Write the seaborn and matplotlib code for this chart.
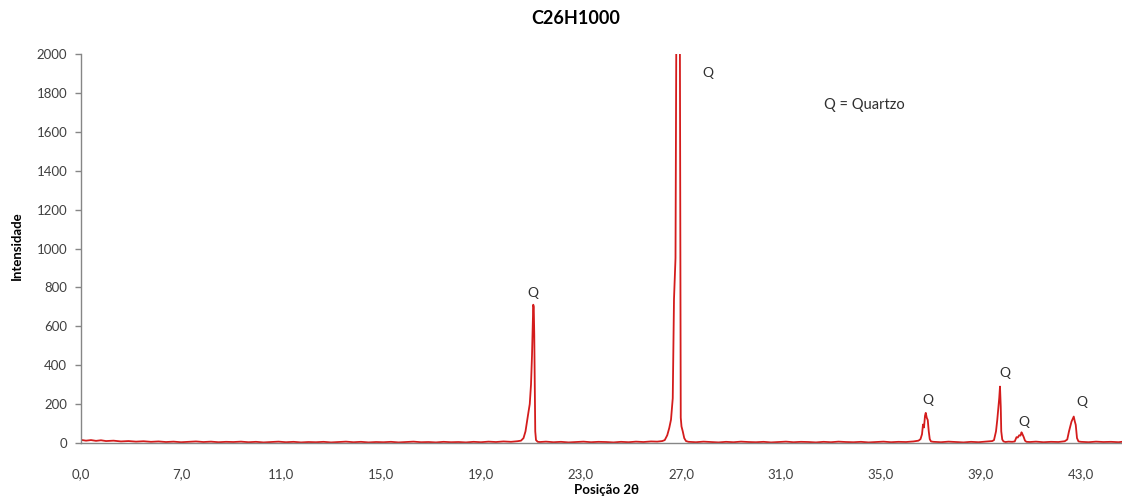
import numpy as np
import pandas as pd
import matplotlib
matplotlib.use("Agg")
import matplotlib.pyplot as plt
import seaborn as sns

# ---- data (2theta in axis-label units, intensity) ----
bg1_x = [3.0, 3.2, 3.4, 3.6, 3.8, 4.0, 4.3, 4.6, 4.9, 5.2, 5.5, 5.8, 6.1, 6.4, 6.7,
         7.0, 7.3, 7.6, 7.9, 8.2, 8.5, 8.8, 9.1, 9.4, 9.7, 10.0, 10.3, 10.6, 10.9,
         11.2, 11.5, 11.8, 12.1, 12.4, 12.7, 13.0, 13.3, 13.6, 13.9, 14.2, 14.5,
         14.8, 15.1, 15.4, 15.7, 16.0, 16.3, 16.6, 16.9, 17.2, 17.5, 17.8, 18.1,
         18.4, 18.7, 19.0, 19.3, 19.6, 19.9, 20.2, 20.45]
bg1_y = [16, 12, 15, 11, 14, 10, 12, 8, 10, 7, 9, 6, 8, 5, 7,
         4, 6, 8, 5, 7, 4, 6, 5, 7, 4, 6, 3, 5, 7,
         4, 6, 3, 5, 4, 6, 3, 5, 7, 4, 6, 3,
         5, 4, 6, 3, 5, 7, 4, 5, 3, 6, 4, 5,
         3, 6, 4, 7, 5, 8, 6, 9]

pk1_x = [20.6, 20.7, 20.78, 20.85, 20.9, 20.95, 21.0, 21.04, 21.07, 21.09, 21.11, 21.13, 21.15, 21.17, 21.2, 21.27]
pk1_y = [12, 25, 60, 120, 160, 200, 300, 450, 620, 711, 700, 560, 300, 60, 15, 6]

bg2_x = [21.35, 21.6, 21.9, 22.2, 22.5, 22.8, 23.1, 23.4, 23.7, 24.0, 24.3, 24.6,
         24.9, 25.2, 25.5, 25.8, 26.05, 26.25]
bg2_y = [5, 7, 4, 6, 3, 5, 7, 4, 6, 5, 3, 6, 4, 7, 5, 8, 7, 10]

pk2_x = [26.35, 26.45, 26.53, 26.6, 26.67, 26.72, 26.78, 26.9, 26.99, 27.02, 27.07, 27.13, 27.2]
pk2_y = [15, 40, 77, 120, 230, 740, 950, 5200, 130, 85, 60, 25, 10]

bg3_x = [27.3, 27.6, 27.9, 28.2, 28.5, 28.8, 29.1, 29.4, 29.7, 30.0, 30.3, 30.6,
         30.9, 31.2, 31.5, 31.8, 32.1, 32.4, 32.7, 33.0, 33.3, 33.6, 33.9, 34.2,
         34.5, 34.8, 35.1, 35.4, 35.7, 36.0, 36.3, 36.5]
bg3_y = [6, 4, 7, 5, 3, 6, 4, 7, 5, 4, 6, 3, 5, 7, 4, 6, 5, 3, 6, 4, 7, 5, 4, 6,
         3, 5, 7, 4, 6, 5, 8, 12]

pk3_x = [36.58, 36.64, 36.68, 36.72, 36.76, 36.79, 36.83, 36.87, 36.91, 36.95, 37.0]
pk3_y = [20, 45, 95, 80, 140, 155, 130, 118, 60, 20, 8]

bg4_x = [37.1, 37.4, 37.7, 38.0, 38.3, 38.6, 38.9, 39.2, 39.45]
bg4_y = [6, 4, 7, 5, 3, 6, 4, 7, 10]

pk4_x = [39.52, 39.6, 39.65, 39.7, 39.73, 39.76, 39.79, 39.81, 39.85, 39.9]
pk4_y = [15, 60, 118, 190, 232, 290, 187, 60, 18, 8]

bg5_x = [39.98, 40.1, 40.25]
bg5_y = [5, 7, 6]

pk5_x = [40.35, 40.42, 40.47, 40.53, 40.58, 40.62, 40.66, 40.71, 40.76, 40.82]
pk5_y = [8, 30, 28, 40, 38, 55, 45, 30, 12, 6]

bg6_x = [40.95, 41.2, 41.5, 41.8, 42.1, 42.35]
bg6_y = [5, 7, 4, 6, 5, 9]

pk6_x = [42.45, 42.52, 42.57, 42.62, 42.67, 42.71, 42.75, 42.79, 42.84, 42.9]
pk6_y = [18, 60, 84, 110, 125, 136, 112, 93, 25, 8]

bg7_x = [43.0, 43.3, 43.6, 43.9, 44.2, 44.5, 44.7]
bg7_y = [6, 4, 7, 5, 6, 4, 7]

tick_pos = [3.0, 7.0, 11.0, 15.0, 19.0, 23.0, 27.0, 31.0, 35.0, 39.0, 43.0]
tick_labels = ["0,0", "7,0", "11,0", "15,0", "19,0", "23,0", "27,0", "31,0", "35,0", "39,0", "43,0"]
y_ticks = [0, 200, 400, 600, 800, 1000, 1200, 1400, 1600, 1800, 2000]

q_x = [21.07, 28.08, 36.88, 39.95, 40.71, 43.04]
q_y = [770, 1901, 221, 358, 110, 212]

title = "C26H1000"
xlabel = "Posição 2θ"
ylabel = "Intensidade"
legend_text = "Q = Quartzo"

# ---- assemble ----
xs = bg1_x + pk1_x + bg2_x + pk2_x + bg3_x + pk3_x + bg4_x + pk4_x + bg5_x + pk5_x + bg6_x + pk6_x + bg7_x
ys = bg1_y + pk1_y + bg2_y + pk2_y + bg3_y + pk3_y + bg4_y + pk4_y + bg5_y + pk5_y + bg6_y + pk6_y + bg7_y
df = pd.DataFrame({"theta": xs, "I": ys}).sort_values("theta")

sns.set_theme(style="white")
plt.rcParams["font.family"] = ["Lato", "DejaVu Sans"]

W, H = 1122, 504
fig = plt.figure(figsize=(W / 100, H / 100), dpi=100)
ax = fig.add_axes([81 / W, (H - 443) / H, (1122 - 81) / W, (443 - 54) / H])

sns.lineplot(data=df, x="theta", y="I", ax=ax, color="#D41C1C", linewidth=1.3,
             estimator=None, sort=False)

ax.set_xlim(3.0, 44.64)
ax.set_ylim(0, 2000)
ax.set_xticks(tick_pos)
ax.set_xticklabels(tick_labels)
ax.set_yticks(y_ticks)
ax.set_yticklabels([str(v) for v in y_ticks])

for s in ["top", "right"]:
    ax.spines[s].set_visible(False)
for s in ["left", "bottom"]:
    ax.spines[s].set_color("#868686")
    ax.spines[s].set_linewidth(1.0)

ax.tick_params(axis="y", which="both", left=True, length=4, width=1, color="#868686",
               labelsize=9.5, labelcolor="#404040", pad=6)
ax.tick_params(axis="x", which="both", bottom=False, labelsize=9.5, labelcolor="#404040", pad=12)

ax.set_xlabel("")
ax.set_ylabel("")
fig.text(606 / W, 1 - 490 / H, xlabel, ha="center", va="center", fontsize=9.5,
         fontweight="bold", color="#000000")
fig.text(17 / W, 1 - 246 / H, ylabel, ha="center", va="center", rotation=90,
         fontsize=9.5, fontweight="bold", color="#000000")
fig.text(576 / W, 1 - 18 / H, title, ha="center", va="center", fontsize=13,
         fontweight="bold", color="#000000")

for qx, qy in zip(q_x, q_y):
    ax.text(qx, qy, "Q", ha="center", va="center", fontsize=10, color="#303030")
ax.text(32.72, 1738, legend_text, ha="left", va="center", fontsize=10.5, color="#303030")

fig.savefig("out.png", dpi=100)
